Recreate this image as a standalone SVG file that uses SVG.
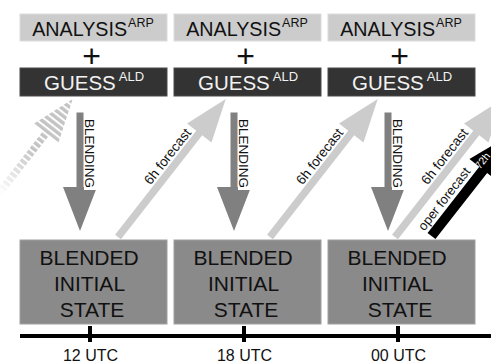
<svg xmlns="http://www.w3.org/2000/svg" width="491" height="363" viewBox="0 0 491 363">
  <style>
    text { font-family: "Liberation Sans", Arial, sans-serif; }
    .ana { fill: #cccccc; stroke: #dcdcdc; stroke-width: 1; }
    .guess { fill: #333333; stroke: #4a4a4a; stroke-width: 1; }
    .blend { fill: #8a8a8a; stroke: #a0a0a0; stroke-width: 1; }
    .t-ana { font-size: 19.7px; fill: #111111; }
    .t-guess { font-size: 20.5px; fill: #f2f2f2; }
    .sup { font-size: 12.5px; }
    .t-blend { font-size: 21px; fill: #111111; }
    .plus { font-size: 32px; fill: #111111; }
    .fc { fill: #cccccc; }
    .bl { fill: #808080; }
    .oper { fill: #000000; }
    .lbl { font-size: 13.5px; fill: #111111; }
    .utc { font-size: 16px; fill: #111111; }
  </style>
  <defs>
    <!-- forecast arrow drawn along +x from its tail -->
    <polygon id="fcArrow" points="0,-3.75 132,-3.75 132,-15.5 175,0 132,15.5 132,3.75 0,3.75"/>
    <!-- vertical blending arrow, drawn from its shaft top -->
    <polygon id="blArrow" points="-3.5,0 3.5,0 3.5,74.5 17,74.5 0,118.5 -17,74.5 -3.5,74.5"/>
    <pattern id="stripes" patternUnits="userSpaceOnUse" x="0" y="-20" width="5.5" height="40">
      <rect x="0" y="0" width="3.5" height="40" fill="#c4c4c4"/>
    </pattern>
    <linearGradient id="fade" gradientUnits="userSpaceOnUse" x1="55" y1="0" x2="110" y2="0">
      <stop offset="0" stop-color="#ffffff" stop-opacity="0"/>
      <stop offset="1" stop-color="#ffffff" stop-opacity="1"/>
    </linearGradient>
    <mask id="fadeMask" maskUnits="userSpaceOnUse" x="0" y="-20" width="180" height="40">
      <rect x="0" y="-20" width="180" height="40" fill="url(#fade)"/>
    </mask>
  </defs>

  <!-- connectors -->
  <g id="connectors">
    <!-- previous-cycle forecast, fading in -->
    <g transform="translate(-35,237) rotate(-52)">
      <use href="#fcArrow" fill="url(#stripes)" mask="url(#fadeMask)"/>
    </g>

    <!-- blending arrows -->
    <g id="blend-12">
      <use href="#blArrow" class="bl" x="80" y="112.5"/>
      <rect x="84" y="114" width="13.5" height="76" fill="#ffffff"/>
      <text class="lbl" transform="translate(85,119) rotate(90)">BLENDING</text>
    </g>
    <g id="blend-18">
      <use href="#blArrow" class="bl" x="234" y="112.5"/>
      <rect x="238" y="114" width="13.5" height="76" fill="#ffffff"/>
      <text class="lbl" transform="translate(239,119) rotate(90)">BLENDING</text>
    </g>
    <g id="blend-00">
      <use href="#blArrow" class="bl" x="388" y="112.5"/>
      <rect x="392" y="114" width="13.5" height="76" fill="#ffffff"/>
      <text class="lbl" transform="translate(393,119) rotate(90)">BLENDING</text>
    </g>

    <!-- 6h forecasts -->
    <g transform="translate(118,237) rotate(-52)">
      <use href="#fcArrow" class="fc"/>
      <text class="lbl" x="94" y="-6" text-anchor="middle">6h forecast</text>
    </g>
    <g transform="translate(270,237) rotate(-52)">
      <use href="#fcArrow" class="fc"/>
      <text class="lbl" x="94" y="-6" text-anchor="middle">6h forecast</text>
    </g>
    <g transform="translate(395,237) rotate(-52)">
      <use href="#fcArrow" class="fc"/>
      <text class="lbl" x="94" y="-6" text-anchor="middle">6h forecast</text>
    </g>

    <!-- operational forecast -->
    <g transform="translate(431.5,236) rotate(-52)">
      <polygon class="oper" points="0,-5 84,-5 84,-17.5 129,0 84,17.5 84,5 0,5"/>
      <text class="lbl" style="font-size:13px" x="37" y="-8.5" text-anchor="middle">oper forecast</text>
      <text style="font-size:10.5px" fill="#ffffff" x="82" y="-2.5">72h</text>
    </g>
  </g>

  <!-- column 12 UTC -->
  <g id="analysis-12">
    <rect class="ana" x="20" y="14" width="147" height="27"/>
    <text class="t-ana" x="93" y="36" text-anchor="middle">ANALYSIS<tspan class="sup" dx="1" dy="-9">ARP</tspan></text>
  </g>
  <text class="plus" x="91.5" y="67" text-anchor="middle">+</text>
  <g id="guess-12">
    <rect class="guess" x="20" y="68" width="147" height="28"/>
    <text class="t-guess" x="94" y="90" text-anchor="middle">GUESS<tspan class="sup" style="font-size:13px" dx="3" dy="-9">ALD</tspan></text>
  </g>
  <g id="state-12">
    <rect class="blend" x="20" y="240" width="147" height="84"/>
    <text class="t-blend" text-anchor="middle">
      <tspan x="92" y="264.5">BLENDED</tspan>
      <tspan x="92" y="291">INITIAL</tspan>
      <tspan x="92" y="317">STATE</tspan>
    </text>
  </g>

  <!-- column 18 UTC -->
  <g id="analysis-18">
    <rect class="ana" x="174" y="14" width="147" height="27"/>
    <text class="t-ana" x="247" y="36" text-anchor="middle">ANALYSIS<tspan class="sup" dx="1" dy="-9">ARP</tspan></text>
  </g>
  <text class="plus" x="245.5" y="67" text-anchor="middle">+</text>
  <g id="guess-18">
    <rect class="guess" x="174" y="68" width="147" height="28"/>
    <text class="t-guess" x="248" y="90" text-anchor="middle">GUESS<tspan class="sup" style="font-size:13px" dx="3" dy="-9">ALD</tspan></text>
  </g>
  <g id="state-18">
    <rect class="blend" x="174" y="240" width="147" height="84"/>
    <text class="t-blend" text-anchor="middle">
      <tspan x="246" y="264.5">BLENDED</tspan>
      <tspan x="246" y="291">INITIAL</tspan>
      <tspan x="246" y="317">STATE</tspan>
    </text>
  </g>

  <!-- column 00 UTC -->
  <g id="analysis-00">
    <rect class="ana" x="328" y="14" width="147" height="27"/>
    <text class="t-ana" x="401" y="36" text-anchor="middle">ANALYSIS<tspan class="sup" dx="1" dy="-9">ARP</tspan></text>
  </g>
  <text class="plus" x="399.5" y="67" text-anchor="middle">+</text>
  <g id="guess-00">
    <rect class="guess" x="328" y="68" width="147" height="28"/>
    <text class="t-guess" x="402" y="90" text-anchor="middle">GUESS<tspan class="sup" style="font-size:13px" dx="3" dy="-9">ALD</tspan></text>
  </g>
  <g id="state-00">
    <rect class="blend" x="328" y="240" width="147" height="84"/>
    <text class="t-blend" text-anchor="middle">
      <tspan x="400" y="264.5">BLENDED</tspan>
      <tspan x="400" y="291">INITIAL</tspan>
      <tspan x="400" y="317">STATE</tspan>
    </text>
  </g>

  <!-- time axis -->
  <g id="timeline">
    <line x1="20" y1="336" x2="491" y2="336" stroke="#000000" stroke-width="4"/>
    <rect x="88" y="326" width="4" height="16" fill="#000000"/>
    <rect x="242" y="326" width="4" height="16" fill="#000000"/>
    <rect x="396" y="326" width="4" height="16" fill="#000000"/>
    <text class="utc" x="90.5" y="360.5" text-anchor="middle">12 UTC</text>
    <text class="utc" x="244.5" y="360.5" text-anchor="middle">18 UTC</text>
    <text class="utc" x="398.5" y="360.5" text-anchor="middle">00 UTC</text>
  </g>
</svg>
